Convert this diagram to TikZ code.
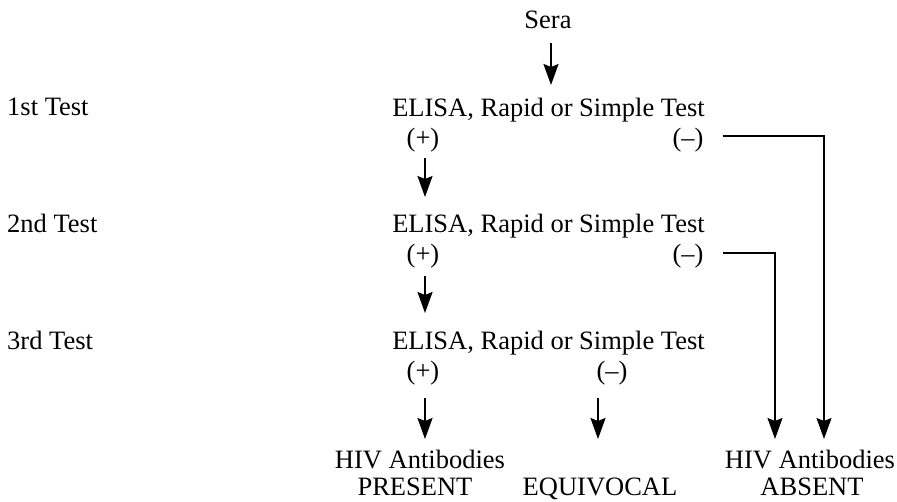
\documentclass[tikz,border=0pt]{standalone}
\usepackage{fontspec}
\setmainfont{Liberation Serif}
\usetikzlibrary{arrows.meta,calc}
\newcommand{\fsz}{\fontsize{26.5}{32}\selectfont}
\begin{document}
\begin{tikzpicture}[x=1pt,y=-1pt,
  lbl/.style={inner sep=0pt, anchor=base, font=\fsz, text=black},
  lft/.style={lbl, anchor=base west},
  arr/.style={line width=2pt, -{Stealth[length=21pt,width=15pt,inset=3pt]}},
  conn/.style={line width=1.5pt, -{Stealth[length=21pt,width=15pt,inset=3pt]}}]
\useasboundingbox (0,0) rectangle (897,501);
% texts
\node[lbl] (sera) at (548,28) {Sera};
\node[lft] (t1) at (7,115) {1st Test};
\node[lft] (t2) at (7,232) {2nd Test};
\node[lft] (t3) at (7,349) {3rd Test};
\node[lbl] (e1) at (548.5,116) {ELISA, Rapid or Simple Test};
\node[lbl] (e2) at (548.5,232.5) {ELISA, Rapid or Simple Test};
\node[lbl] (e3) at (548.5,349) {ELISA, Rapid or Simple Test};
\node[lbl] (p1) at (423,146) {(+)};
\node[lbl] (m1) at (688,146) {(--)};
\node[lbl] (p2) at (423,262) {(+)};
\node[lbl] (m2) at (688,262) {(--)};
\node[lbl] (p3) at (423,379) {(+)};
\node[lbl] (m3) at (612,379) {(--)};
\node[lbl] (hivp) at (420,468) {HIV Antibodies};
\node[lbl] (present) at (415,495) {PRESENT};
\node[lbl] (equiv) at (600,495) {EQUIVOCAL};
\node[lbl] (hiva) at (810,468) {HIV Antibodies};
\node[lbl] (absent) at (812,495) {ABSENT};
% arrows
\draw[arr] ($(sera.base)+(3,15)$) -- ($(sera.base |- e1.base)+(3,-31)$);
\draw[arr] ($(p1.base)+(2,12)$) -- ($(p1.base |- e2.base)+(2,-35.5)$);
\draw[arr] ($(p2.base)+(2,14)$) -- ($(p2.base |- e3.base)+(2,-36)$);
\draw[arr] ($(p3.base)+(2,19)$) -- ($(p3.base |- hivp.base)+(2,-29)$);
\draw[arr] ($(m3.base)+(-14,19)$) -- ($(m3.base |- equiv.base)+(-14,-56)$);
\draw[conn] ($(m1.base east)+(19,-10)$) -| ($(hiva.base)+(14,-29)$);
\draw[conn] ($(m2.base east)+(19,-9)$) -| ($(hiva.base)+(-35,-29)$);
\end{tikzpicture}
\end{document}
